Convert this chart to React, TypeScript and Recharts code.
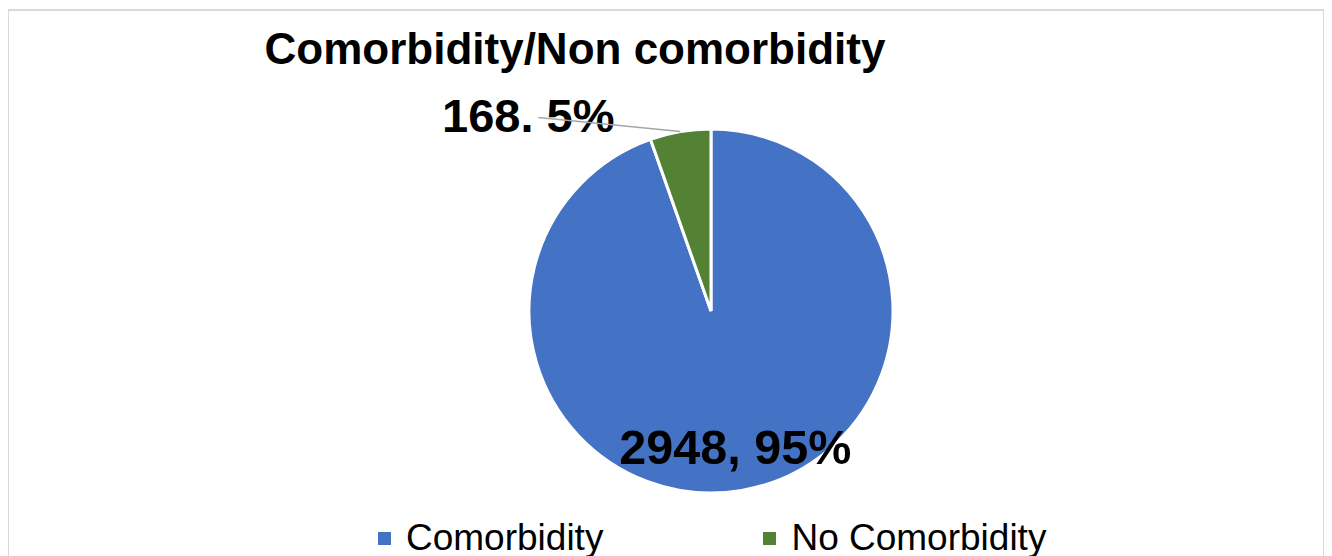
import * as React from "react";
import { PieChart, Pie, Cell, Legend } from "recharts";

const categories = ["Comorbidity", "No Comorbidity"];
const counts = [2948, 168];
const colors = ["#4472C4", "#548235"];
const separators = [", ", ". "];

const data = categories.map((name, i) => ({ name, value: counts[i] }));

const FONT = '"Liberation Sans", Arial, Helvetica, sans-serif';
const RADIAN = Math.PI / 180;

function renderLabel(props: any) {
  const { cx, cy, midAngle, outerRadius, index, value, percent } = props;
  const text = `${value}${separators[index]}${Math.round(percent * 100)}%`;
  const cos = Math.cos(-midAngle * RADIAN);
  const sin = Math.sin(-midAngle * RADIAN);
  if (index === 0) {
    const r = outerRadius * 0.76;
    return (
      <text
        x={cx + r * cos + 1}
        y={cy + r * sin}
        textAnchor="middle"
        dominantBaseline="central"
        fill="#000"
        fontSize={48.5}
        fontWeight="bold"
        fontFamily={FONT}
      >
        {text}
      </text>
    );
  }
  const ox = cx + outerRadius * cos;
  const oy = cy + outerRadius * sin;
  return (
    <g>
      <text
        x={ox - 152}
        y={oy - 16}
        textAnchor="middle"
        dominantBaseline="central"
        fill="#000"
        fontSize={47}
        fontWeight="bold"
        fontFamily={FONT}
      >
        {text}
      </text>
      <line x1={ox} y1={oy} x2={ox - 142} y2={oy - 14} stroke="#a6a6a6" strokeWidth={1.5} />
    </g>
  );
}

function renderLegend(props: any) {
  const { payload } = props;
  return (
    <div style={{ display: "flex", alignItems: "center", fontFamily: FONT, fontSize: 37, color: "#000" }}>
      {(payload || []).map((entry: any, i: number) => (
        <div key={`legend-${i}`} style={{ display: "flex", alignItems: "center", marginLeft: i === 0 ? 0 : 160 }}>
          <span style={{ display: "inline-block", width: 13, height: 13, background: entry.color, marginRight: 15 }} />
          <span style={{ lineHeight: "40px" }}>{entry.value}</span>
        </div>
      ))}
    </div>
  );
}

export default function App() {
  return (
    <div
      style={{
        position: "relative",
        width: 1314,
        height: 560,
        marginLeft: -1,
        marginTop: 1,
        border: "2px solid #d9d9d9",
        background: "#fff",
        fontFamily: FONT,
      }}
    >
      <div
        style={{
          position: "absolute",
          left: 166,
          top: 16,
          width: 800,
          textAlign: "center",
          fontSize: 44,
          lineHeight: "44px",
          fontWeight: "bold",
          color: "#000",
          whiteSpace: "nowrap",
        }}
      >
        Comorbidity/Non comorbidity
      </div>
      <PieChart width={1314} height={560} margin={{ top: 0, right: 0, bottom: 0, left: 0 }}>
        <Pie
          data={data}
          dataKey="value"
          nameKey="name"
          cx={702}
          cy={300}
          outerRadius={182}
          startAngle={90}
          endAngle={-270}
          stroke="#fff"
          strokeWidth={3}
          label={renderLabel}
          labelLine={false}
          legendType="square"
          isAnimationActive={false}
        >
          {data.map((entry, idx) => (
            <Cell key={`cell-${idx}`} fill={colors[idx]} />
          ))}
        </Pie>
        <Legend
          content={renderLegend}
          wrapperStyle={{ position: "absolute", left: 369, top: 507, width: 900 }}
        />
      </PieChart>
    </div>
  );
}
